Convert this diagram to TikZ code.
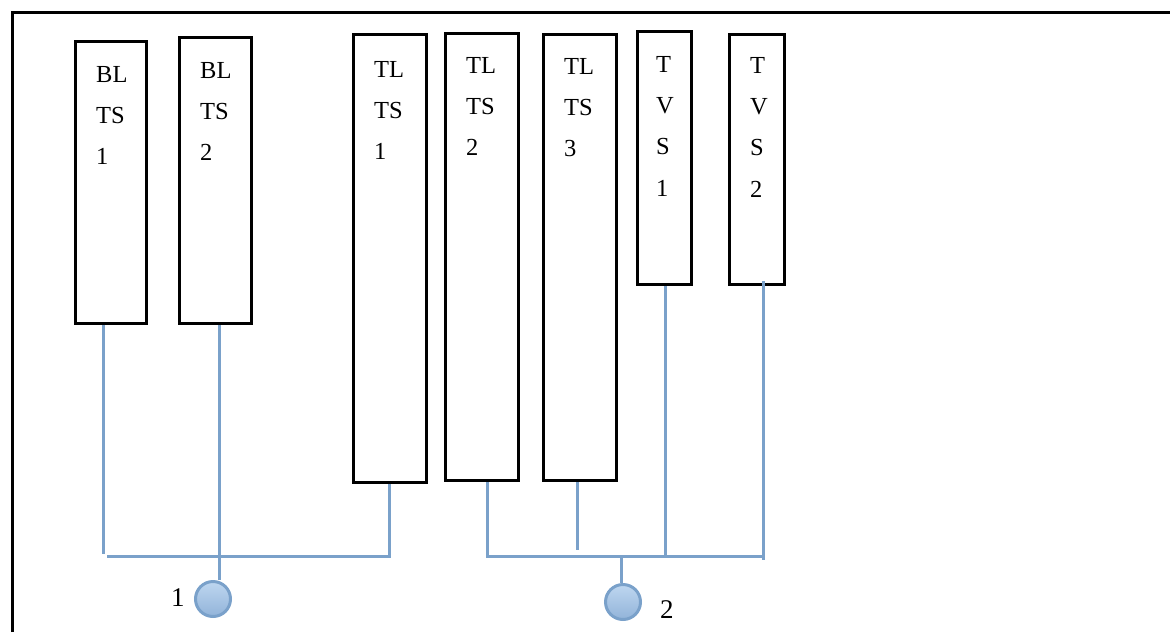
\documentclass[tikz,border=0pt]{standalone}
\usepackage{fontspec}
\setmainfont{Liberation Serif}
\definecolor{wireblue}{RGB}{122,161,202}
\definecolor{portlight}{RGB}{190,214,240}
\definecolor{portdark}{RGB}{146,180,217}
\begin{document}
\begin{tikzpicture}[x=1pt,y=-1pt,
  box/.style={draw=black,line width=3.2pt,rectangle,inner sep=0pt,anchor=north west},
  lbl/.style={inner sep=0pt,anchor=north west,align=left,
    font=\fontsize{24.5}{41.3}\selectfont},
  wire/.style={draw=wireblue,line width=3pt},
  port/.style={circle,draw=wireblue,line width=3pt,minimum size=35pt,inner sep=0pt,
    top color=portlight,bottom color=portdark},
  num/.style={inner sep=0pt,anchor=base west,font=\fontsize{27}{30}\selectfont}]
\useasboundingbox (0,0) rectangle (1170,632);

% outer frame (top and left edges)
\draw[line width=3pt] (12,632) -- (12,12) -- (1170,12);

% sensor boxes
\node[box,minimum width=71pt,minimum height=282pt] (b1) at (74,40) {};
\node[box,minimum width=72pt,minimum height=286pt] (b2) at (178,36) {};
\node[box,minimum width=73pt,minimum height=448pt] (t1) at (352,33) {};
\node[box,minimum width=73pt,minimum height=447pt] (t2) at (444,32) {};
\node[box,minimum width=73pt,minimum height=446pt] (t3) at (542,33) {};
\node[box,minimum width=54pt,minimum height=253pt] (v1) at (636,30) {};
\node[box,minimum width=55pt,minimum height=250pt] (v2) at (728,33) {};

% box texts
\node[lbl] (b1t) at (96,66) {BL\\TS\\1};
\node[lbl] (b2t) at (200,62) {BL\\TS\\2};
\node[lbl] (t1t) at (374,61) {TL\\TS\\1};
\node[lbl] (t2t) at (466,57) {TL\\TS\\2};
\node[lbl] (t3t) at (564,58) {TL\\TS\\3};
\node[lbl] (v1t) at (656,56) {T\\V\\S\\1};
\node[lbl] (v2t) at (750,57) {T\\V\\S\\2};

% ports
\node[port] (p1) at (213,599) {};
\node[port] (p2) at (623,602) {};
\node[num] (n1) at (171,606) {1};
\node[num] (n2) at (660,618) {2};

% bus junction points
\coordinate (j1a) at (103,554);
\coordinate (j1l) at (107,556);
\coordinate (j1r) at (389,556);
\coordinate (j1m) at (219,556);
\coordinate (j2l) at (487,556);
\coordinate (j2r) at (763,556);
\coordinate (j2m) at (621,556);
\coordinate (j3e) at (577,550);
\coordinate (j4e) at (763,560);

% wiring of group 1
\draw[wire] (b1.south -| j1a) -- (j1a);
\draw[wire] (b2.south -| j1m) -- (j1m) -- (p1.north -| j1m);
\draw[wire] (t1.south -| j1r) -- (j1r) -- (j1l);

% wiring of group 2
\draw[wire] (t2.south -| j2l) -- (j2l) -- (j2r);
\draw[wire] (t3.south -| j3e) -- (j3e);
\draw[wire] (v1.south -| 665,0) -- (665,556);
\draw[wire] ([yshift=5pt]v2.south -| j4e) -- (j4e);
\draw[wire] (j2m) -- (p2.north -| j2m);
\end{tikzpicture}
\end{document}
